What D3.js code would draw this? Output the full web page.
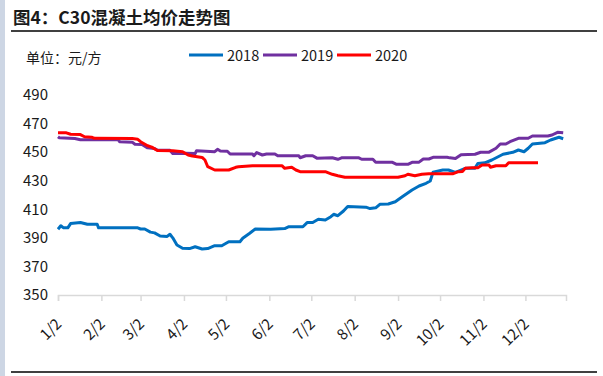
<!DOCTYPE html>
<html lang="zh">
<head>
<meta charset="utf-8">
<title>C30混凝土均价走势图</title>
<script src="https://cdn.jsdelivr.net/npm/d3@7"></script>
<style>
  body { margin: 0; background: #fff; }
  text { font-family: "Microsoft YaHei", "Noto Sans CJK SC", sans-serif; fill: #1a1a1a; }
</style>
</head>
<body>
<script>
// data (month/day, price in 元/方)
const dates2018 = ["1/2","1/4","1/6","1/9","1/11","1/18","1/23","1/30","1/31","2/28","3/2","3/5","3/9","3/12","3/16","3/21","3/23","3/25","3/28","4/1","4/6","4/10","4/15","4/19","4/24","4/29","5/4","5/12","5/14","5/19","5/23","6/3","6/13","6/16","6/26","6/29","7/3","7/7","7/12","7/16","7/18","7/21","7/25","7/28","8/10","8/13","8/17","8/20","8/26","8/31","9/5","9/12","9/17","9/22","9/25","9/27","10/4","10/8","10/13","10/20","10/27","10/29","11/3","11/8","11/16","11/23","11/27","12/1","12/4","12/7","12/16","12/20","12/26","12/29"];
const values2018 = [396,398.5,397,397,400,400.8,399.5,399.5,397,397,396.2,396.2,394,393.5,391.3,391,392.5,390,385,382.7,382.5,383.8,382.2,382.5,384.5,384.5,387.3,387.3,389.7,393.2,396.2,396,396.5,397.8,397.8,400.7,400.7,403,402.5,404.8,406.5,405.5,408.8,412,411.5,410.5,411,413.5,413.7,415.3,418.8,423.5,426.3,428.2,429.8,436,437.5,437.5,435.8,438.7,438.8,442,442.5,444.5,448.5,449.9,451.5,450.3,452.7,455.7,456.6,458.5,460.4,459.4];

const dates2019 = ["1/2","1/3","1/14","1/18","2/14","2/15","2/24","2/26","3/3","3/7","3/12","3/14","3/23","3/25","3/30","4/3","4/10","4/11","4/24","4/26","4/28","5/3","5/5","5/21","5/22","5/24","5/28","5/31","6/6","6/8","6/23","6/24","6/28","7/3","7/6","7/17","7/21","7/24","8/5","8/7","8/15","8/17","8/29","9/1","9/9","9/12","9/17","9/20","9/24","9/27","10/7","10/9","10/13","10/17","10/27","10/31","11/6","11/11","11/14","11/18","11/21","11/27","12/4","12/7","12/18","12/21","12/25","12/29"];
const values2019 = [460.8,460,459.5,458.7,458.7,457.3,457,455.5,455.3,453,452.5,451.5,451.3,449,449,449.2,449,451,450.3,452,450.8,450.6,448.7,448.7,447.5,449.7,448,448.7,448.7,447.5,447.5,446.1,447.5,447.5,445.8,446.1,445,446.1,446,445,445,442.9,442.9,441.5,441.5,442.9,443,445.2,445.2,446.4,446.4,446,445.5,448.2,448.5,449.9,450,452.7,455.7,455.7,457.3,459.7,459.7,461.3,461.3,462,463.9,463.5];

const dates2020 = ["1/2","1/8","1/11","1/18","1/21","1/26","1/28","2/24","2/28","3/2","3/7","3/10","3/14","3/25","4/1","4/5","4/8","4/15","4/17","4/19","4/24","5/4","5/9","5/11","5/21","6/11","6/13","6/18","6/21","6/24","7/12","7/17","7/21","7/26","9/2","9/7","9/9","9/14","9/19","9/24","10/11","10/15","10/18","10/20","10/25","10/29","11/1","11/6","11/7","11/11","11/18","11/20","12/11"];
const values2020 = [463.6,463.5,462.5,462.3,460.8,460.5,459.7,459.5,459,457.3,454.5,453.5,451.2,451,450.3,448,447.3,446.3,444.5,439.8,437.5,437.5,439.4,439.8,440.5,440.5,438.7,439.4,437.5,436.3,436.3,434.5,433.5,432.4,432.4,433.5,434.5,433.5,434.5,434.9,434.8,436.3,436.5,438.7,439.1,439.1,441,441,439.4,440.5,440.5,442.6,442.6];

const seriesNames = ["2018", "2019", "2020"];
const seriesColors = ["#0070C0", "#7030A0", "#FF0000"];
const xTickLabels = ["1/2","2/2","3/2","4/2","5/2","6/2","7/2","8/2","9/2","10/2","11/2","12/2"];
const yTicks = [350, 370, 390, 410, 430, 450, 470, 490];

const w = 603, h = 376;
const parse = d3.timeParse("%Y/%m/%d");
const toDate = s => parse("2019/" + s);

const svg = d3.select("body").append("svg")
  .attr("width", w).attr("height", h);

// left frame strip
svg.append("rect").attr("x", 0).attr("y", 0).attr("width", 5).attr("height", h).attr("fill", "#CDD6E4");

// title
svg.append("text").attr("x", 13).attr("y", 24)
  .attr("font-size", "17.5px").attr("font-weight", "bold")
  .text("图4：C30混凝土均价走势图");
svg.append("line").attr("x1", 11).attr("x2", 597).attr("y1", 31).attr("y2", 31)
  .attr("stroke", "#000").attr("stroke-width", 1.5);
svg.append("line").attr("x1", 11).attr("x2", 597).attr("y1", 372).attr("y2", 372)
  .attr("stroke", "#000").attr("stroke-width", 1.5);

svg.append("text").attr("x", 26).attr("y", 63).attr("font-size", "14px").text("单位：元/方");

const xScale = d3.scaleTime()
  .domain([toDate("1/2"), toDate("12/31")])
  .range([58, 566]);
const yScale = d3.scaleLinear().domain([350, 490]).range([295, 95]);

// x axis
const xAxis = d3.axisBottom(xScale)
  .tickValues(xTickLabels.map(toDate))
  .tickSize(6)
  .tickFormat((d, i) => xTickLabels[i]);
const gx = svg.append("g").attr("transform", "translate(0,295)").call(xAxis);
gx.select(".domain").attr("stroke", "#D9D9D9").attr("stroke-width", 1.5);
gx.selectAll(".tick line").attr("stroke", "#D9D9D9").attr("stroke-width", 1.5);
gx.selectAll(".tick text")
  .attr("font-size", "15px")
  .attr("fill", "#1a1a1a")
  .attr("text-anchor", "end")
  .attr("dy", null).attr("y", null)
  .attr("transform", "translate(4,30) rotate(-45)");

// y axis
const yAxis = d3.axisLeft(yScale).tickValues(yTicks).tickSize(0).tickPadding(10);
const gy = svg.append("g").attr("transform", "translate(58,0)").call(yAxis);
gy.select(".domain").remove();
gy.selectAll(".tick text").attr("font-size", "15px").attr("fill", "#1a1a1a");

// lines
const line = d3.line()
  .x(d => xScale(d.date))
  .y(d => yScale(d.value));

const allSeries = [
  { dates: dates2018, values: values2018 },
  { dates: dates2019, values: values2019 },
  { dates: dates2020, values: values2020 }
];

allSeries.forEach((s, k) => {
  const pts = s.dates.map((d, i) => ({ date: toDate(d), value: s.values[i] }));
  svg.append("path")
    .datum(pts)
    .attr("fill", "none")
    .attr("stroke", seriesColors[k])
    .attr("stroke-width", 3)
    .attr("stroke-linejoin", "round")
    .attr("d", line);
});

// legend
const legendX = [189, 263, 337];
seriesNames.forEach((name, k) => {
  const g = svg.append("g").attr("transform", `translate(${legendX[k]},55)`);
  g.append("line").attr("x1", 0).attr("x2", 34).attr("y1", 0).attr("y2", 0)
    .attr("stroke", seriesColors[k]).attr("stroke-width", 3);
  g.append("text").attr("x", 38).attr("y", 5.5).attr("font-size", "14.5px").text(name);
});
</script>
</body>
</html>
